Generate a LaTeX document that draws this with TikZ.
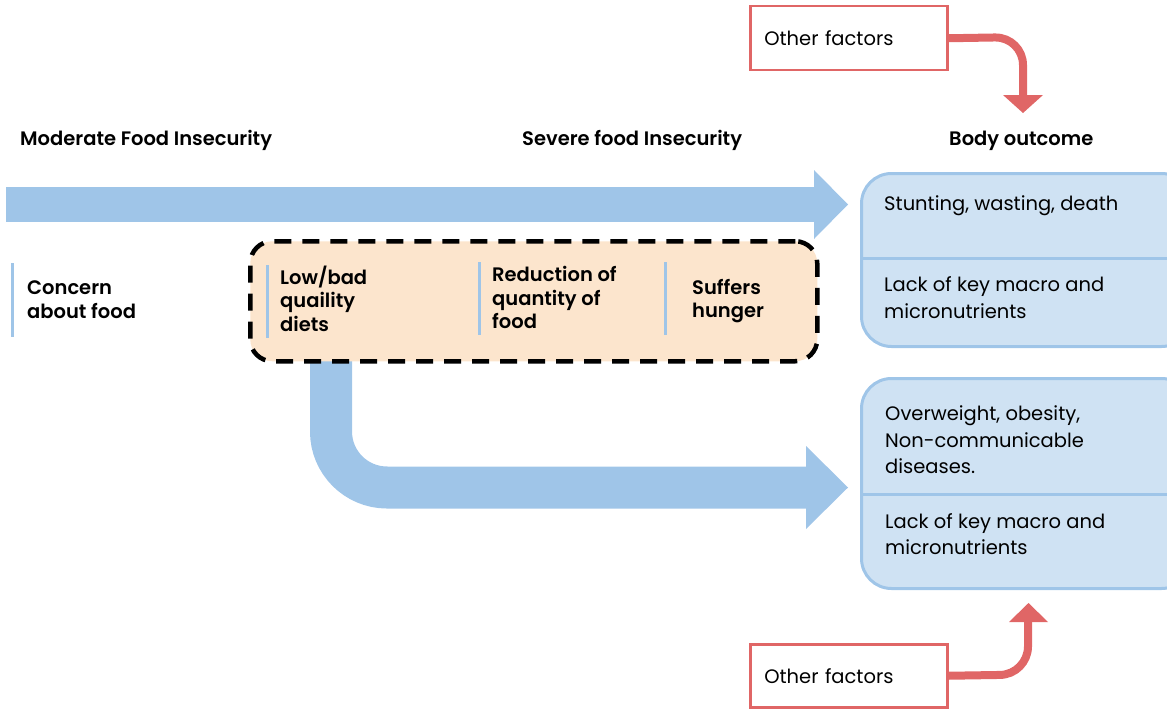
\documentclass[tikz,border=0pt]{standalone}
\usepackage{fontspec}
\setmainfont{Poppins}
\IfFontExistsTF{Poppins SemiBold}{\newfontfamily\semib{Poppins SemiBold}}{\newcommand\semib{\bfseries}}
\usetikzlibrary{calc}
\definecolor{bluearrow}{HTML}{9FC5E8}
\definecolor{bluefill}{HTML}{CFE2F3}
\definecolor{peach}{HTML}{FCE5CD}
\definecolor{redc}{HTML}{E06666}
\begin{document}
\begin{tikzpicture}[x=1pt,y=-1pt,
  txt/.style={anchor=west, inner sep=0pt, align=left, font=\fontsize{19.5}{26.5}\selectfont},
  btxt/.style={anchor=west, inner sep=0pt, align=left, font=\fontsize{19.5}{23.5}\semib\selectfont},
  hdr/.style={anchor=west, inner sep=0pt, font=\fontsize{19.5}{22}\semib\selectfont},
  bodybox/.style={draw=bluearrow, fill=bluefill, line width=3pt, rounded corners=30pt, anchor=north west, inner sep=0pt},
  redbox/.style={draw=redc, line width=2.5pt, fill=white, anchor=north west, inner xsep=14pt, inner ysep=0pt, align=left, font=\fontsize{19.5}{22}\selectfont},
  dashbox/.style={draw=black, fill=peach, line width=4.5pt, dash pattern=on 17pt off 11pt, rounded corners=22pt, anchor=north west, inner sep=0pt},
  bar/.style={draw=bluearrow, line width=3pt},
  redarrow/.style={draw=redc, line width=8pt, rounded corners=28pt}
]
\useasboundingbox (0,0) rectangle (1167,709);
\clip (0,0) rectangle (1167,709);

% headers
\node[hdr] (h1) at (20,140.5) {Moderate Food Insecurity};
\node[hdr] (h2) at (522,140.5) {Severe food Insecurity};
\node[hdr] (h3) at (949,140.5) {Body outcome};

% body boxes
\node[bodybox, minimum width=330pt, minimum height=173pt] (b1) at (860,172) {};
\draw[bluearrow, line width=3pt] (860,258) -- (1195,258);
\node[txt] (b1a) at (884,206) {Stunting, wasting, death};
\node[txt] (b1b) at (884,297.5) {Lack of key macro and\\micronutrients};

\node[bodybox, minimum width=330pt, minimum height=210pt] (b2) at (860,377) {};
\draw[bluearrow, line width=3pt] (860,494) -- (1195,494);
\node[txt] (b2a) at (885,440) {Overweight, obesity,\\Non-communicable\\diseases.};
\node[txt] (b2b) at (885,534) {Lack of key macro and\\micronutrients};

% top fat arrow
\coordinate (s1) at (6,204.5);
\coordinate (t1) at (815,204.5);
\draw[bluearrow, line width=35pt] (s1) -- (t1);
\fill[bluearrow] (814,170) -- (848,204.5) -- (814,239) -- cycle;

% bent fat arrow
\coordinate (s2) at (331,357);
\coordinate (c2) at (331,487.5);
\coordinate (t2) at (807,487.5);
\draw[bluearrow, line width=42pt, rounded corners=56pt] (s2) -- (c2) -- (t2);
\fill[bluearrow] (806,446) -- (848,487.5) -- (806,529) -- cycle;

% concern
\draw[bar] (12,263) -- (12,337);
\node[btxt] (c) at (27,299.5) {Concern\\about food};

% dashed box
\node[dashbox, minimum width=567pt, minimum height=120pt] (d) at (248,239) {};
\draw[bar] (267,265) -- (267,338);
\node[btxt] (d1) at (280,298.5) {Low/bad\\quaility\\diets};
\draw[bar] (479,262) -- (479,335);
\node[btxt] (d2) at (492,297.5) {Reduction of\\quantity of\\food};
\draw[bar] (665,262) -- (665,335);
\node[btxt] (d3) at (692,301) {Suffers\\hunger};

% other factors
\node[redbox, text width=169pt, minimum height=64pt] (of1) at (749,5) {Other factors};
\node[redbox, text width=169pt, minimum height=63pt] (of2) at (749,643) {Other factors};

\draw[redarrow] (of1.east) -- (1023,37) -- (1023,96);
\fill[redc] (1003,95) -- (1043,95) -- (1023,113) -- cycle;

\draw[redarrow] (of2.east) -- (1028,674.5) -- (1028,621);
\fill[redc] (1009,622) -- (1048,622) -- (1028.5,603) -- cycle;
\end{tikzpicture}
\end{document}
